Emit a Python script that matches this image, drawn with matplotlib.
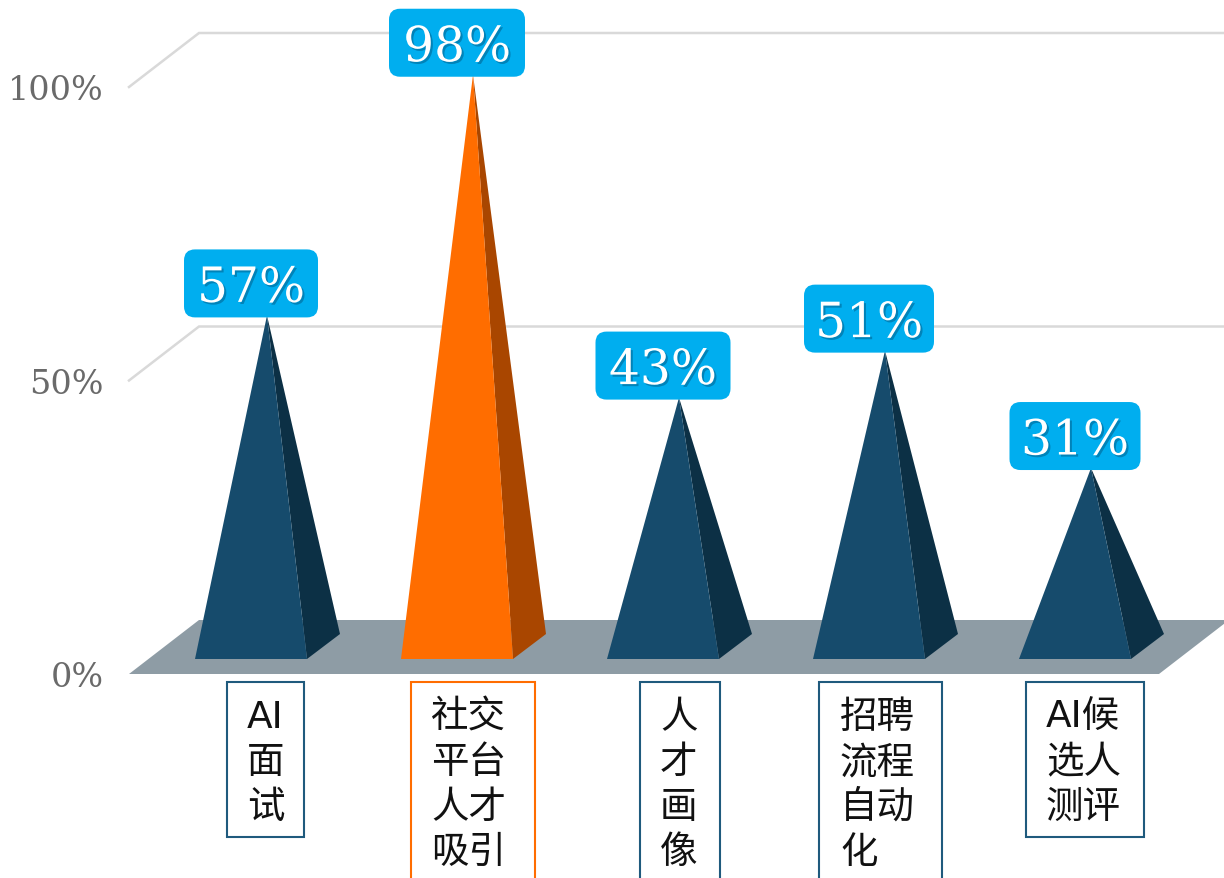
import matplotlib
matplotlib.use("Agg")
import matplotlib.pyplot as plt
import matplotlib.patheffects as pe
from matplotlib.patches import FancyBboxPatch, Polygon, Rectangle

# survey results, one pyramid per category
category_lines = [
    ["AI", "面", "试"],
    ["社交", "平台", "人才", "吸引"],
    ["人", "才", "画", "像"],
    ["招聘", "流程", "自动", "化"],
    ["AI候", "选人", "测评"],
]
values = [57, 98, 43, 51, 31]
y_ticks = [0, 50, 100]
y_tick_labels = ["0%", "50%", "100%"]

NAVY = "#164B6C"
NAVY_SIDE = "#0C3045"
ORANGE = "#FF6D00"
ORANGE_SIDE = "#A94600"
FLOOR = "#8E9CA5"
GRID = "#D9D9D9"
BADGE = "#00AEEF"

W, H = 1224, 879
X_UNIT = 206.0  # pixels per category
Y_UNIT = 5.87  # pixels per percent
AX_LEFT = 129
FLOOR_Y = 675  # pixel row of the 0% line


def px_w(p):
    return p / X_UNIT


def px_h(p):
    return p / Y_UNIT


# label box layout per category: left edge, right edge, text left, all pixel widths from centre
box_left = [-24, -46, -23, -50, -49]
box_right = [53, 78, 57, 73, 69]
text_left = [-4, -26, -3, -29, -29]
box_lines_height = [155, 210, 210, 210, 155]
badge_width = [134, 136, 135, 130, 131]

fig = plt.figure(figsize=(W / 100, H / 100), dpi=100)
ax = fig.add_axes([AX_LEFT / W, 0, 1 - AX_LEFT / W, 1])
ax.set_xlim((AX_LEFT - 251) / X_UNIT, (W - 251) / X_UNIT)
ax.set_ylim(-(H - FLOOR_Y) / Y_UNIT, FLOOR_Y / Y_UNIT)
for s in ax.spines.values():
    s.set_visible(False)
ax.patch.set_visible(False)

depth_x = px_w(70)
depth_y = px_h(54)
x0 = ax.get_xlim()[0]
x_end = x0 + px_w(1030)

# back wall gridlines with their slanted left part
for t in y_ticks[1:]:
    ax.plot([x0, x0 + depth_x, ax.get_xlim()[1]], [t, t + depth_y, t + depth_y],
            color=GRID, lw=1.8, zorder=1, solid_joinstyle="miter", clip_on=False)

# floor
ax.add_patch(Polygon([(x0, 0), (x_end, 0), (x_end + depth_x, depth_y), (x0 + depth_x, depth_y)],
                     closed=True, facecolor=FLOOR, edgecolor="none", zorder=2))

half = px_w(56)
base_front = px_h(15)
base_back = px_h(40)
back_dx = px_w(33)
apex_dx = px_w(16)
apex_base = px_h(24)

for i, v in enumerate(values):
    top = v + apex_base
    front = ORANGE if i == 1 else NAVY
    side = ORANGE_SIDE if i == 1 else NAVY_SIDE
    apex = (i + apex_dx, top)
    ax.add_patch(Polygon([(i + half, base_front), (i + half + back_dx, base_back), apex],
                         closed=True, facecolor=side, edgecolor="none", zorder=3))
    ax.add_patch(Polygon([(i - half, base_front), (i + half, base_front), apex],
                         closed=True, facecolor=front, edgecolor="none", zorder=4))

    # value badge sitting on the tip
    bw = px_w(badge_width[i])
    bh = px_h(68)
    bottom = top - px_h(2)
    r = px_w(11)
    ax.add_patch(FancyBboxPatch((i - bw / 2 + r, bottom + r * X_UNIT / Y_UNIT),
                                bw - 2 * r, bh - 2 * r * X_UNIT / Y_UNIT,
                                boxstyle=f"round,pad={r},rounding_size={r}",
                                mutation_aspect=X_UNIT / Y_UNIT,
                                facecolor=BADGE, edgecolor="none", zorder=5, clip_on=False))
    ax.text(i, bottom + bh / 2, f"{v}%", color="white", fontsize=35, family="DejaVu Serif",
            ha="center", va="center_baseline", zorder=6,
            path_effects=[pe.withSimplePatchShadow(offset=(1.5, -1.5), alpha=0.35, shadow_rgbFace="#003355")])

    # category box, cut off by the bottom edge when the text is long
    edge = ORANGE if i == 1 else "#1F5A7D"
    box_top = -px_h(8)
    ax.add_patch(Rectangle((i + px_w(box_left[i]), box_top - px_h(box_lines_height[i])),
                           px_w(box_right[i] - box_left[i]), px_h(box_lines_height[i]),
                           facecolor="white", edgecolor=edge, lw=1.5, zorder=3))
    for j, line in enumerate(category_lines[i]):
        ax.text(i + px_w(text_left[i]), -px_h(43 + 45 * j), line, color="#111111", fontsize=27,
                family=["DejaVu Sans", "Noto Sans CJK SC"], ha="left", va="center", zorder=6)

ax.set_xticks([])
ax.set_yticks(y_ticks)
ax.set_yticklabels(y_tick_labels, family="DejaVu Serif", fontsize=24, color="#6A6A6A")
ax.tick_params(axis="y", length=0, pad=18)

fig.savefig("out.png", dpi=100)
